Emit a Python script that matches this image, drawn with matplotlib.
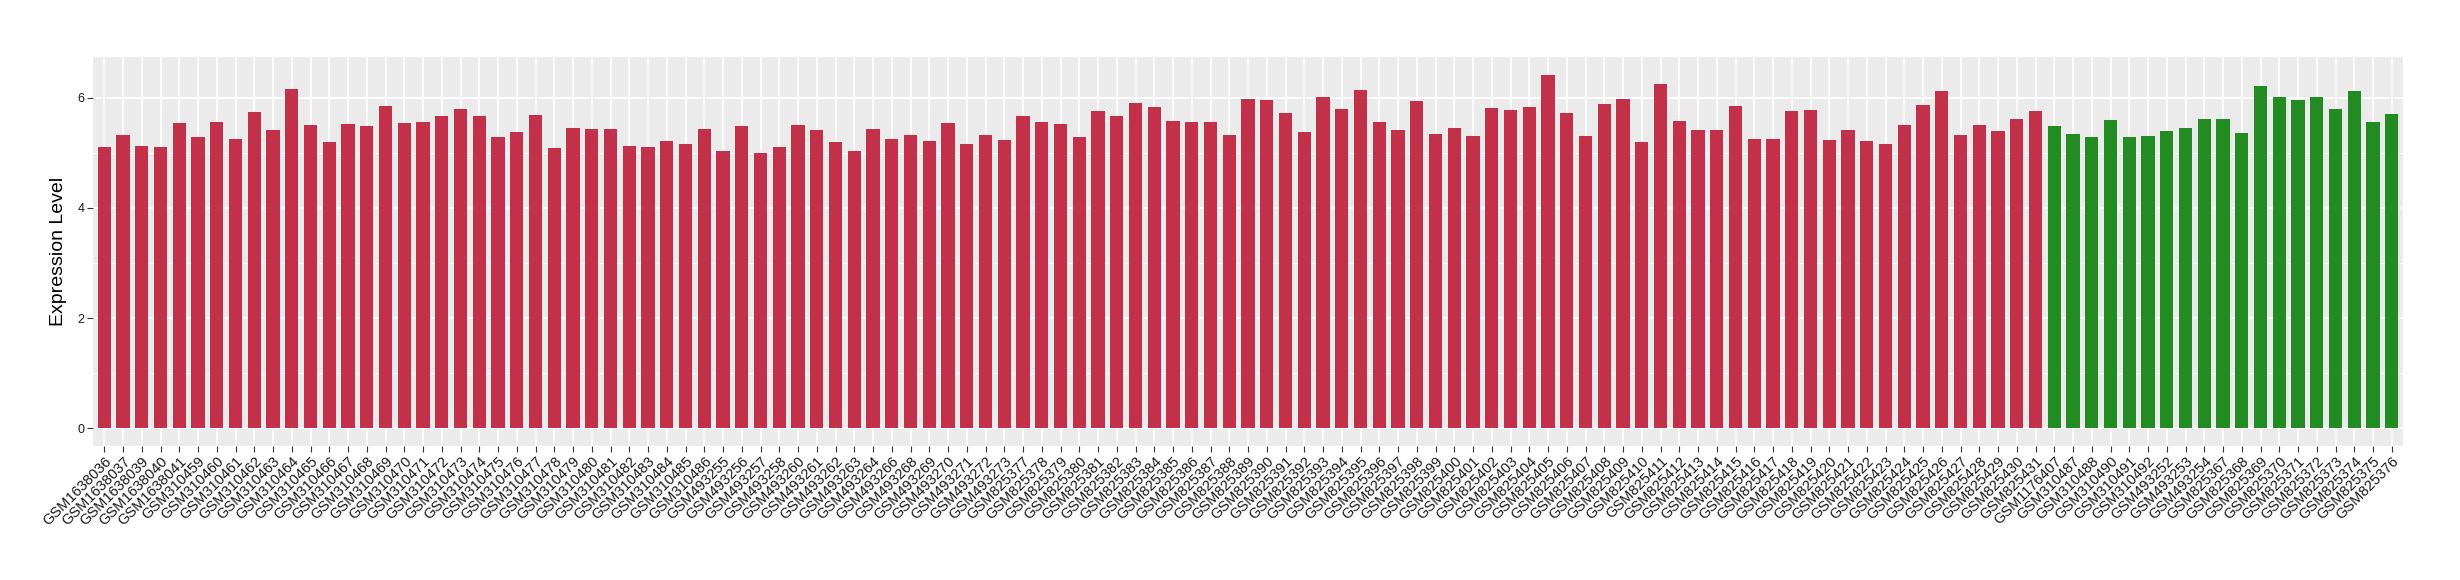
import matplotlib
matplotlib.use("Agg")
import matplotlib.pyplot as plt
from matplotlib.ticker import MultipleLocator

plt.rcParams['font.family'] = ['Liberation Sans', 'DejaVu Sans']

red_samples = [
    "GSM1638036", "GSM1638037", "GSM1638039", "GSM1638040", "GSM1638041",
    "GSM310459", "GSM310460", "GSM310461", "GSM310462", "GSM310463", "GSM310464",
    "GSM310465", "GSM310466", "GSM310467", "GSM310468", "GSM310469", "GSM310470",
    "GSM310471", "GSM310472", "GSM310473", "GSM310474", "GSM310475", "GSM310476",
    "GSM310477", "GSM310478", "GSM310479", "GSM310480", "GSM310481", "GSM310482",
    "GSM310483", "GSM310484", "GSM310485", "GSM310486",
    "GSM493255", "GSM493256", "GSM493257", "GSM493258", "GSM493260", "GSM493261",
    "GSM493262", "GSM493263", "GSM493264", "GSM493266", "GSM493268", "GSM493269",
    "GSM493270", "GSM493271", "GSM493272", "GSM493273",
    "GSM825377", "GSM825378", "GSM825379", "GSM825380", "GSM825381", "GSM825382",
    "GSM825383", "GSM825384", "GSM825385", "GSM825386", "GSM825387", "GSM825388",
    "GSM825389", "GSM825390", "GSM825391", "GSM825392", "GSM825393", "GSM825394",
    "GSM825395", "GSM825396", "GSM825397", "GSM825398", "GSM825399", "GSM825400",
    "GSM825401", "GSM825402", "GSM825403", "GSM825404", "GSM825405", "GSM825406",
    "GSM825407", "GSM825408", "GSM825409", "GSM825410", "GSM825411", "GSM825412",
    "GSM825413", "GSM825414", "GSM825415", "GSM825416", "GSM825417", "GSM825418",
    "GSM825419", "GSM825420", "GSM825421", "GSM825422", "GSM825423", "GSM825424",
    "GSM825425", "GSM825426", "GSM825427", "GSM825428", "GSM825429", "GSM825430",
    "GSM825431",
]
red_values = [
    5.11, 5.33, 5.13, 5.11, 5.55,
    5.29, 5.57, 5.26, 5.75, 5.42, 6.16,
    5.51, 5.20, 5.53, 5.49, 5.86, 5.55,
    5.57, 5.67, 5.80, 5.67, 5.28, 5.38,
    5.69, 5.08, 5.46, 5.44, 5.44, 5.13,
    5.11, 5.22, 5.17, 5.44,
    5.04, 5.48, 4.99, 5.10, 5.51, 5.42,
    5.20, 5.04, 5.44, 5.26, 5.33, 5.22,
    5.55, 5.17, 5.33, 5.24,
    5.67, 5.57, 5.53, 5.28, 5.76, 5.67,
    5.91, 5.84, 5.58, 5.57, 5.57, 5.33,
    5.98, 5.96, 5.73, 5.38, 6.02, 5.80,
    6.14, 5.57, 5.42, 5.95, 5.35, 5.46,
    5.31, 5.82, 5.78, 5.84, 6.42, 5.73,
    5.31, 5.89, 5.98, 5.20, 6.25, 5.58,
    5.42, 5.42, 5.86, 5.26, 5.26, 5.76,
    5.78, 5.24, 5.42, 5.22, 5.17, 5.51,
    5.87, 6.13, 5.33, 5.51, 5.40, 5.62,
    5.76,
]

green_samples = [
    "GSM1176407", "GSM310487", "GSM310488", "GSM310490", "GSM310491", "GSM310492",
    "GSM493252", "GSM493253", "GSM493254",
    "GSM825367", "GSM825368", "GSM825369", "GSM825370", "GSM825371", "GSM825372",
    "GSM825373", "GSM825374", "GSM825375", "GSM825376",
]
green_values = [
    5.48, 5.34, 5.28, 5.59, 5.28, 5.31,
    5.39, 5.45, 5.62,
    5.62, 5.36, 6.22, 6.02, 5.96, 6.02,
    5.79, 6.13, 5.56, 5.70,
]

red_color = "#C23149"
green_color = "#228B22"

samples = red_samples + green_samples
values = red_values + green_values
colors = [red_color] * len(red_samples) + [green_color] * len(green_samples)
xpos = list(range(len(samples)))

fig = plt.figure(figsize=(24.6, 5.8), dpi=100)
ax = fig.add_axes([93 / 2460, 1 - 446 / 580, (2403 - 93) / 2460, (446 - 57) / 580])
ax.set_facecolor("#EBEBEB")

ax.bar(xpos, values, width=0.7, color=colors, zorder=3)

ax.set_xlim(-0.6, len(samples) - 1 + 0.6)
ax.set_ylim(-0.321, 6.741)
ax.yaxis.set_major_locator(MultipleLocator(2))
ax.yaxis.set_minor_locator(MultipleLocator(1))
ax.grid(which="major", axis="y", color="white", linewidth=1.3, zorder=1)
ax.grid(which="minor", axis="y", color="white", linewidth=0.6, zorder=1)
ax.grid(which="major", axis="x", color="white", linewidth=1.1, zorder=1)

ax.set_xticks(xpos)
ax.set_xticklabels(samples, rotation=45, ha="right", va="top",
                   rotation_mode="anchor", fontsize=10.5, color="#1a1a1a")
for lbl in ax.get_yticklabels():
    lbl.set_fontsize(9)
    lbl.set_color("#1a1a1a")
ax.tick_params(axis="y", which="minor", length=0)
ax.tick_params(axis="both", which="major", length=4, width=0.8, color="#333333", pad=2)
ax.set_ylabel("Expression Level", fontsize=14, labelpad=8)

for s in ax.spines.values():
    s.set_visible(False)

fig.savefig("out.png", dpi=100)
